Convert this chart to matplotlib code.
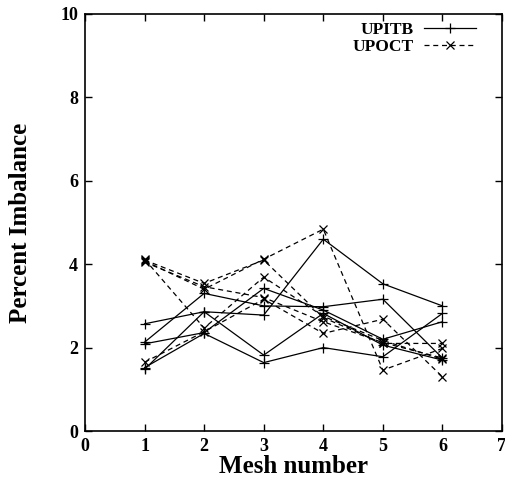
import matplotlib
matplotlib.use('Agg')
import matplotlib.pyplot as plt

mesh = [1, 2, 3, 4, 5, 6]
upitb = [
    [2.57, 2.86, 2.78, 4.60, 3.53, 3.00],
    [2.13, 3.30, 3.00, 2.98, 3.16, 1.75],
    [2.09, 2.36, 3.42, 2.90, 2.20, 2.62],
    [1.52, 2.34, 1.64, 2.00, 1.78, 2.82],
    [1.48, 2.86, 1.82, 2.82, 2.06, 1.70],
]
upoct = [
    [4.10, 3.54, 4.10, 2.72, 2.10, 2.10],
    [4.08, 3.40, 4.12, 4.84, 1.46, 1.98],
    [4.05, 3.46, 3.20, 2.62, 2.12, 1.75],
    [4.12, 2.47, 3.69, 2.75, 2.17, 1.72],
    [1.65, 2.38, 3.16, 2.34, 2.68, 1.30],
]
xticks = [0, 1, 2, 3, 4, 5, 6, 7]
yticks = [0, 2, 4, 6, 8, 10]

plt.rcParams['font.family'] = ['Liberation Serif', 'DejaVu Serif']
plt.rcParams['font.weight'] = 'bold'

fig = plt.figure(figsize=(5.05, 4.78), dpi=100)
ax = fig.add_axes([85/505, 47/478, 417/505, 417/478])

for i, s in enumerate(upitb):
    ax.plot(mesh, s, color='black', lw=0.9, marker='+', ms=7, mew=0.9,
            label='UPITB' if i == 0 else None)
for i, s in enumerate(upoct):
    ax.plot(mesh, s, color='black', lw=0.9, ls=(0, (4, 3)), marker='x', ms=6,
            mew=0.9, label='UPOCT' if i == 0 else None)

ax.set_xlim(0, 7)
ax.set_ylim(0, 10)
ax.set_xticks(xticks)
ax.set_yticks(yticks)
ax.tick_params(direction='in', top=True, right=True, length=5, width=1,
               labelsize=13, pad=5)
for lab in ax.get_xticklabels() + ax.get_yticklabels():
    lab.set_fontweight('bold')
for sp in ax.spines.values():
    sp.set_linewidth(1.2)

ax.set_xlabel('Mesh number', fontsize=18, fontweight='bold', labelpad=0)
ax.set_ylabel('Percent Imbalance', fontsize=18, fontweight='bold', labelpad=20)

leg = ax.legend(loc='upper right', bbox_to_anchor=(0.972, 1.015), frameon=False,
                markerfirst=False, handlelength=3.0, fontsize=12.5,
                labelspacing=0.05, borderpad=0.3, handletextpad=0.6)
for t in leg.get_texts():
    t.set_fontweight('bold')

fig.savefig('out.png', dpi=100)
